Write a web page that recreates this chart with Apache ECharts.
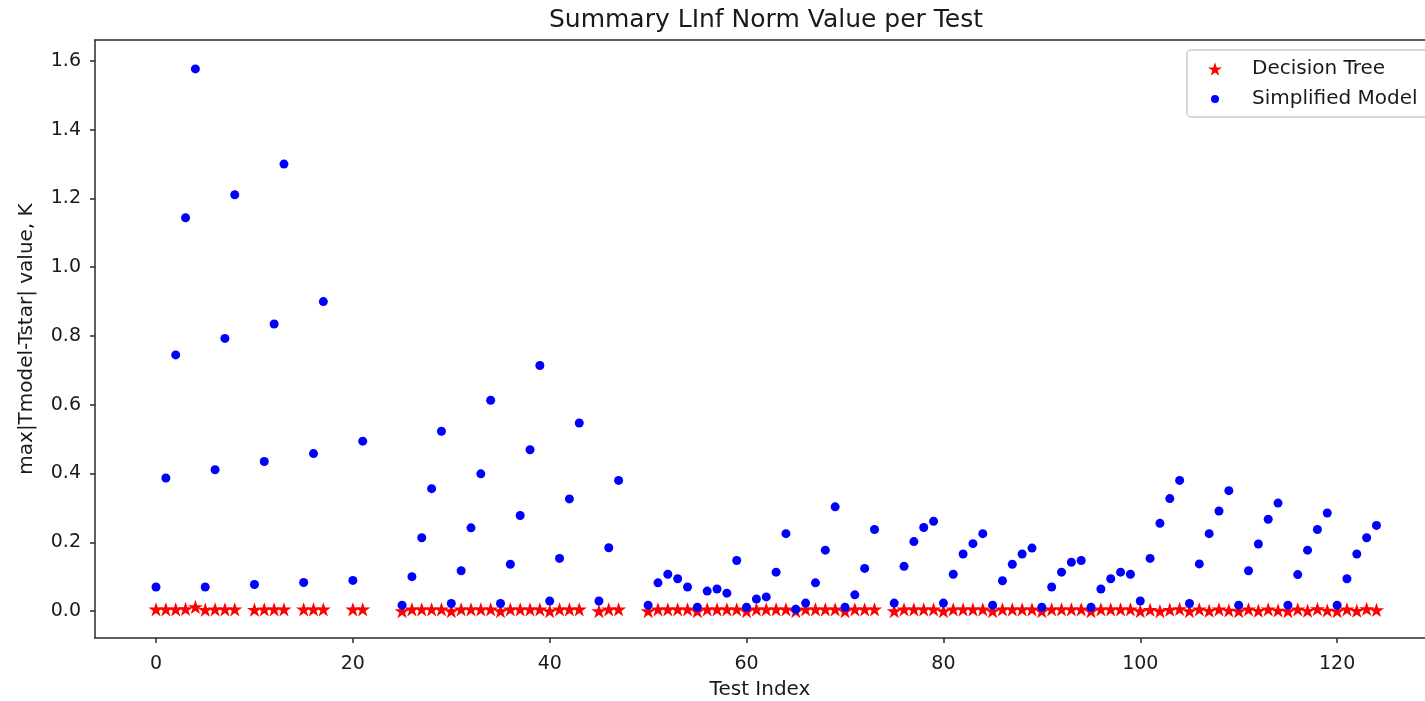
<!DOCTYPE html>
<html>
<head>
<meta charset="utf-8">
<script src="https://cdn.jsdelivr.net/npm/echarts@6/dist/echarts.min.js"></script>
<style>
html,body{margin:0;padding:0;background:#fff;}
#chart{width:1425px;height:701px;}
</style>
</head>
<body>
<div id="chart"></div>
<script>
// Test indices present in the data (missing tests are simply absent)
const testIndex = [
  0,1,2,3,4,5,6,7,8,
  10,11,12,13,
  15,16,17,
  20,21,
  25,26,27,28,29,30,31,32,33,34,35,36,37,38,39,40,41,42,43,
  45,46,47,
  50,51,52,53,54,55,56,57,58,59,60,61,62,63,64,65,66,67,68,69,70,71,72,73,
  75,76,77,78,79,80,81,82,83,84,85,86,87,88,89,90,91,92,93,94,95,96,97,98,99,
  100,101,102,103,104,105,106,107,108,109,110,111,112,113,114,115,116,117,118,119,
  120,121,122,123,124
];

// Decision Tree max|Tmodel-Tstar| values (K)
const treeValues = [
  0.005,0.005,0.005,0.006,0.012,0.004,0.005,0.005,0.005,
  0.004,0.005,0.005,0.005,
  0.005,0.005,0.005,
  0.005,0.005,
  0.000,0.005,0.005,0.005,0.005,0.000,0.005,0.005,0.005,0.005,0.000,0.005,0.005,0.005,0.005,0.000,0.005,0.005,0.005,
  0.000,0.005,0.005,
  0.000,0.005,0.005,0.005,0.005,0.000,0.005,0.005,0.005,0.005,0.000,0.005,0.005,0.005,0.005,0.000,0.005,0.005,0.005,0.005,0.000,0.005,0.005,0.005,
  0.000,0.005,0.005,0.005,0.005,0.000,0.005,0.005,0.005,0.005,0.000,0.005,0.005,0.005,0.005,0.000,0.005,0.005,0.005,0.005,0.000,0.005,0.005,0.005,0.005,
  0.000,0.004,0.000,0.004,0.006,0.000,0.005,0.001,0.005,0.002,0.000,0.005,0.001,0.005,0.002,0.000,0.005,0.001,0.006,0.002,
  0.000,0.005,0.001,0.006,0.003
];

// Simplified Model max|Tmodel-Tstar| values (K)
const modelValues = [
  0.070,0.387,0.745,1.144,1.577,0.070,0.411,0.793,1.211,
  0.077,0.435,0.835,1.300,
  0.083,0.458,0.900,
  0.089,0.494,
  0.017,0.100,0.213,0.356,0.523,0.022,0.117,0.242,0.399,0.613,0.022,0.136,0.278,0.469,0.714,0.029,0.153,0.326,0.547,
  0.029,0.184,0.380,
  0.017,0.082,0.107,0.094,0.070,0.011,0.058,0.064,0.052,0.147,0.011,0.035,0.041,0.113,0.225,0.005,0.023,0.082,0.177,0.303,0.011,0.047,0.124,0.237,
  0.023,0.130,0.202,0.243,0.261,0.023,0.107,0.166,0.196,0.225,0.017,0.088,0.136,0.166,0.183,0.011,0.070,0.113,0.142,0.147,0.011,0.064,0.094,0.113,0.107,
  0.029,0.153,0.255,0.327,0.380,0.022,0.137,0.225,0.291,0.350,0.017,0.117,0.195,0.267,0.314,0.017,0.106,0.177,0.237,0.285,
  0.017,0.094,0.166,0.213,0.249
];

const xTicks = [0, 20, 40, 60, 80, 100, 120];
const yTicks = [0.0, 0.2, 0.4, 0.6, 0.8, 1.0, 1.2, 1.4, 1.6];

const seriesNames = ['Decision Tree', 'Simplified Model'];
const titleText = 'Summary LInf Norm Value per Test';
const xName = 'Test Index';
const yName = 'max|Tmodel-Tstar| value, K';

const STAR = 'path://M0,-1 L0.2245,-0.309 L0.951,-0.309 L0.363,0.118 L0.588,0.809 L0,0.382 L-0.588,0.809 L-0.363,0.118 L-0.951,-0.309 L-0.2245,-0.309 Z';
const FONT = 'DejaVu Sans';
const TXT = '#1a1a1a';
const AX = '#2a2a2a';

const treeData = testIndex.map((x, i) => [x, treeValues[i]]);
const modelData = testIndex.map((x, i) => [x, modelValues[i]]);

const X_MIN = -6.2, X_MAX = 128.93, Y_MIN = -0.0785, Y_MAX = 1.661;

const chart = echarts.init(document.getElementById('chart'), null, {renderer: 'canvas'});
chart.setOption({
  animation: false,
  backgroundColor: '#fff',
  textStyle: {fontFamily: FONT},
  title: {
    text: titleText,
    left: 766,
    top: 8,
    padding: 0,
    textAlign: 'center',
    textStyle: {fontFamily: FONT, fontSize: 25, fontWeight: 'normal', color: TXT}
  },
  grid: {left: 95, top: 40, right: 0, bottom: 63, containLabel: false, outerBoundsMode: 'none'},
  legend: [
    {
      data: [{name: seriesNames[0], icon: STAR}],
      left: 1208, top: 59, padding: 0,
      itemWidth: 14, itemHeight: 14,
      selectedMode: false,
      textStyle: {fontFamily: FONT, fontSize: 20, color: TXT, padding: [0, 0, 0, 25]}
    },
    {
      data: [{name: seriesNames[1], icon: 'circle'}],
      left: 1211, top: 89, padding: 0,
      itemWidth: 8, itemHeight: 8,
      selectedMode: false,
      textStyle: {fontFamily: FONT, fontSize: 20, color: TXT, padding: [0, 0, 0, 28]}
    }
  ],
  graphic: [{
    type: 'rect', z: 3,
    shape: {x: 1187, y: 50, width: 260, height: 67, r: 4},
    style: {fill: 'rgba(255,255,255,0.85)', stroke: '#cccccc', lineWidth: 1.5}
  }],
  xAxis: [
    {
      type: 'value',
      min: X_MIN, max: X_MAX,
      position: 'bottom',
      name: xName, nameLocation: 'middle', nameGap: 42,
      nameTextStyle: {fontFamily: FONT, fontSize: 20, color: TXT},
      axisLine: {show: true, onZero: false, lineStyle: {color: AX, width: 1.5}},
      splitLine: {show: false},
      axisTick: {show: true, length: 5, lineStyle: {color: AX, width: 1.5}, customValues: xTicks},
      axisLabel: {customValues: xTicks, margin: 17, fontFamily: FONT, fontSize: 19, color: TXT,
        formatter: v => String(Math.round(v))}
    },
    {
      type: 'value',
      min: X_MIN, max: X_MAX,
      position: 'top',
      axisLine: {show: true, onZero: false, lineStyle: {color: AX, width: 1.5}},
      splitLine: {show: false},
      axisTick: {show: false},
      axisLabel: {show: false}
    }
  ],
  yAxis: {
    type: 'value',
    min: Y_MIN, max: Y_MAX,
    position: 'left',
    name: yName, nameLocation: 'middle', nameGap: 58, nameRotate: 90,
    nameTextStyle: {fontFamily: FONT, fontSize: 20, color: TXT},
    axisLine: {show: true, onZero: false, lineStyle: {color: AX, width: 1.5}},
    splitLine: {show: false},
    axisTick: {show: true, length: 5, lineStyle: {color: AX, width: 1.5}, customValues: yTicks},
    axisLabel: {customValues: yTicks, margin: 14, fontFamily: FONT, fontSize: 19, color: TXT,
      formatter: v => v.toFixed(1)}
  },
  series: [
    {
      name: seriesNames[0], type: 'scatter', data: treeData,
      symbol: STAR, symbolSize: 15, symbolKeepAspect: true,
      itemStyle: {color: '#ff0000', opacity: 1}, z: 2
    },
    {
      name: seriesNames[1], type: 'scatter', data: modelData,
      symbol: 'circle', symbolSize: 9,
      itemStyle: {color: '#0000ff', opacity: 1}, z: 3
    }
  ]
});
</script>
</body>
</html>
